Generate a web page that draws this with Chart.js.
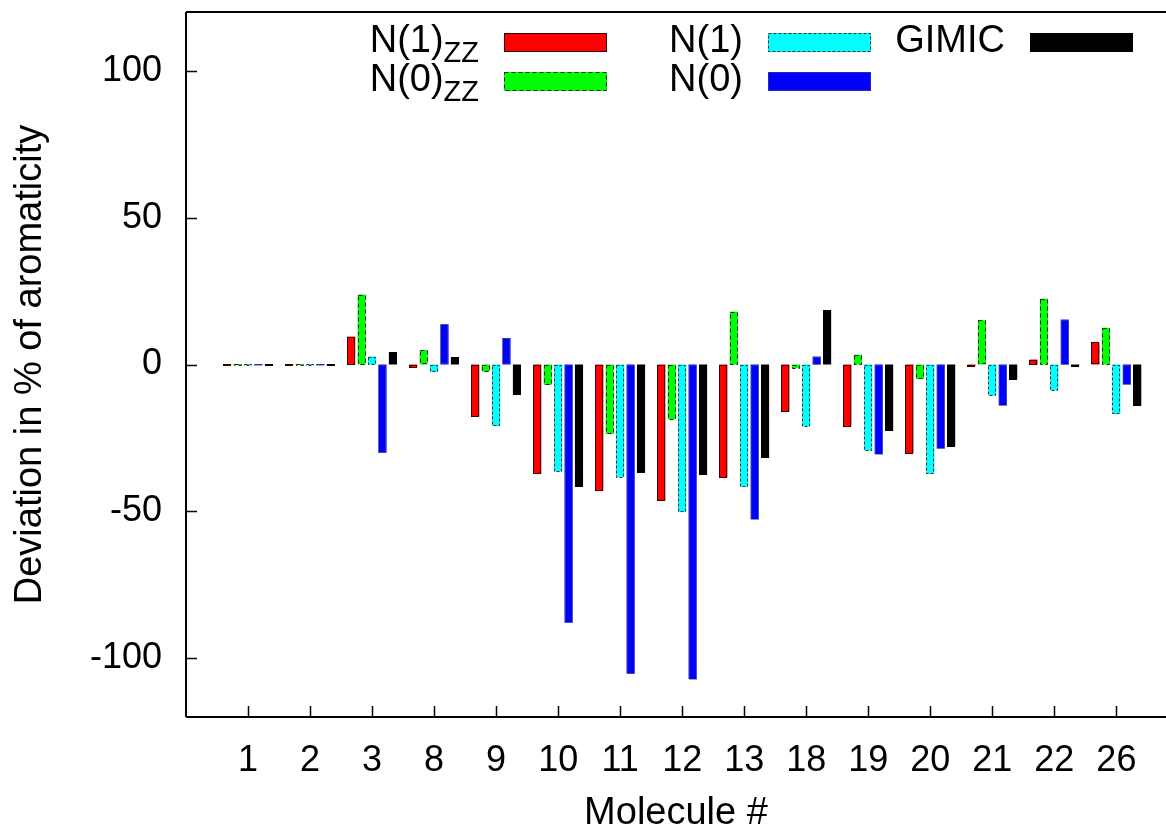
<!DOCTYPE html>
<html>
<head>
<meta charset="utf-8">
<script src="https://cdn.jsdelivr.net/npm/chart.js@4.4.1/dist/chart.umd.min.js"></script>
<style>
  html, body { margin: 0; padding: 0; background: #fff; }
  #wrap { width: 1166px; height: 831px; }
</style>
</head>
<body>
<div id="wrap"><canvas id="myChart" width="1166" height="831"></canvas></div>
<script>
'use strict';

// molecule numbers on the x axis
var categories = ['1', '2', '3', '8', '9', '10', '11', '12', '13', '18', '19', '20', '21', '22', '26'];

// deviation in % of aromaticity
var n1zz  = [0, 0, 9.5, -0.9, -17.7, -37.1, -42.9, -46.4, -38.4, -16.0, -21.0, -30.2, -0.5, 1.7, 7.5];
var n0zz  = [0, 0, 23.8, 4.9, -2.4, -6.9, -23.6, -18.6, 18.0, -1.2, 3.3, -4.9, 15.1, 22.4, 12.5];
var n1    = [0, 0, 2.7, -2.5, -20.9, -36.4, -38.3, -50.2, -41.5, -21.0, -29.3, -37.2, -10.5, -8.7, -16.8];
var n0    = [0, 0, -30.0, 13.7, 9.0, -87.9, -105.3, -107.1, -52.7, 2.7, -30.5, -28.6, -13.9, 15.3, -6.8];
var gimic = [0, 0, 4.1, 2.4, -10.3, -41.7, -36.6, -37.5, -31.8, 18.4, -22.6, -27.8, -5.0, -0.5, -14.0];

var yTicks = [-100, -50, 0, 50, 100];

var FONT = '"Liberation Sans", Arial, Helvetica, sans-serif';

// legend slot: col/row inside the key
var series = [
  {label: 'N(1)', sub: 'ZZ', data: n1zz,  color: '#ff0000', edge: '#3a0000', dash: [],     col: 0, row: 0},
  {label: 'N(0)', sub: 'ZZ', data: n0zz,  color: '#00ff00', edge: '#222222', dash: [4, 3], col: 0, row: 1},
  {label: 'N(1)', sub: '',   data: n1,    color: '#00ffff', edge: '#333333', dash: [3, 2], col: 1, row: 0},
  {label: 'N(0)', sub: '',   data: n0,    color: '#0000ff', edge: '#555555', dash: [1, 1], col: 1, row: 1},
  {label: 'GIMIC', sub: '',  data: gimic, color: '#000000', edge: '#000000', dash: [],     col: 2, row: 0}
];

function toPoints(arr) {
  return arr.map(function(v, i) { return {x: i + 1, y: v}; });
}

// dashed outlines round every bar (gnuplot style)
var barEdges = {
  id: 'barEdges',
  afterDatasetsDraw: function(chart) {
    var ctx = chart.ctx;
    chart.data.datasets.forEach(function(ds, di) {
      var s = series[di];
      chart.getDatasetMeta(di).data.forEach(function(bar) {
        var p = bar.getProps(['x', 'y', 'base', 'width'], true);
        var top = Math.min(p.y, p.base), h = Math.abs(p.base - p.y);
        ctx.save();
        ctx.strokeStyle = s.edge;
        ctx.lineWidth = 1;
        ctx.setLineDash(s.dash);
        ctx.strokeRect(Math.round(p.x - p.width / 2) + 0.5, Math.round(top) + 0.5, Math.round(p.width) - 1, Math.max(Math.round(h) - 1, 1));
        ctx.restore();
      });
    });
  }
};

// frame and inward tick marks
var frame = {
  id: 'frame',
  afterDraw: function(chart) {
    var ctx = chart.ctx, a = chart.chartArea;
    ctx.save();
    ctx.strokeStyle = '#000';
    ctx.lineWidth = 2;
    ctx.beginPath();
    ctx.moveTo(a.left, a.top); ctx.lineTo(a.right, a.top);
    ctx.moveTo(a.left, a.top); ctx.lineTo(a.left, a.bottom);
    ctx.moveTo(a.left, a.bottom); ctx.lineTo(a.right, a.bottom);
    ctx.stroke();
    ctx.lineWidth = 1.5;
    ctx.beginPath();
    chart.scales.y.ticks.forEach(function(t) {
      var py = Math.round(chart.scales.y.getPixelForValue(t.value)) + 0.5;
      ctx.moveTo(a.left, py); ctx.lineTo(a.left + 11, py);
    });
    chart.scales.x.ticks.forEach(function(t) {
      var px = Math.round(chart.scales.x.getPixelForValue(t.value)) + 0.5;
      ctx.moveTo(px, a.bottom); ctx.lineTo(px, a.bottom - 11);
    });
    ctx.stroke();
    ctx.restore();
  }
};

// key in the top of the plot, text right-justified before the sample
var key = {
  id: 'key',
  afterDraw: function(chart) {
    var ctx = chart.ctx;
    var boxLeft = [504, 768, 1030], boxTop = [33, 72];
    ctx.save();
    series.forEach(function(s) {
      var bx = boxLeft[s.col], by = boxTop[s.row];
      ctx.fillStyle = s.color;
      ctx.fillRect(bx, by, 103, 19);
      ctx.strokeStyle = s.edge;
      ctx.lineWidth = 1;
      ctx.setLineDash(s.dash);
      ctx.strokeRect(bx + 0.5, by + 0.5, 102, 18);
      ctx.setLineDash([]);
      var right = bx - 25, base = by + 19;
      ctx.fillStyle = '#000';
      ctx.textBaseline = 'alphabetic';
      var subW = 0;
      if (s.sub) {
        ctx.font = '29px ' + FONT;
        subW = ctx.measureText(s.sub).width;
        ctx.textAlign = 'right';
        ctx.fillText(s.sub, right, base + 10);
      }
      ctx.font = '38px ' + FONT;
      ctx.textAlign = 'right';
      ctx.fillText(s.label, right - subW, base);
    });
    ctx.restore();
  }
};

var ctx = document.getElementById('myChart').getContext('2d');
var myChart = new Chart(ctx, {
  type: 'bar',
  data: {
    datasets: series.map(function(s) {
      return {
        label: s.label + s.sub,
        data: toPoints(s.data),
        backgroundColor: s.color,
        borderWidth: 0,
        minBarLength: 1,
        categoryPercentage: 0.84,
        barPercentage: 0.78
      };
    })
  },
  options: {
    responsive: false,
    animation: false,
    layout: {padding: {top: 12, right: 0, left: 0, bottom: 0}},
    plugins: {
      legend: {display: false},
      tooltip: {enabled: false}
    },
    scales: {
      x: {
        type: 'linear',
        min: 0,
        max: 15.8,
        offset: false,
        grid: {display: false, drawTicks: false},
        border: {display: false},
        afterBuildTicks: function(scale) {
          scale.ticks = categories.map(function(c, i) { return {value: i + 1}; });
        },
        ticks: {
          autoSkip: false,
          maxRotation: 0,
          padding: 22,
          color: '#000',
          font: {family: FONT, size: 36},
          callback: function(v) { return categories[v - 1]; }
        },
        title: {
          display: true,
          text: 'Molecule #',
          color: '#000',
          font: {family: FONT, size: 38, lineHeight: 1},
          padding: {top: 0, bottom: -2}
        },
        afterFit: function(scale) {
          scale.height = 114;
          scale.paddingLeft = 0;
          scale.paddingRight = 0;
        }
      },
      y: {
        min: -120,
        max: 120,
        grid: {display: false, drawTicks: false},
        border: {display: false},
        afterBuildTicks: function(scale) {
          scale.ticks = yTicks.map(function(v) { return {value: v}; });
        },
        ticks: {
          padding: 24,
          color: '#000',
          font: {family: FONT, size: 36}
        },
        title: {
          display: true,
          text: 'Deviation in % of aromaticity',
          color: '#000',
          font: {family: FONT, size: 38, lineHeight: 1},
          padding: {top: 12, bottom: 0}
        },
        afterFit: function(scale) {
          scale.width = 186;
          scale.paddingTop = 0;
          scale.paddingBottom = 0;
        }
      }
    }
  },
  plugins: [barEdges, frame, key]
});
</script>
</body>
</html>
